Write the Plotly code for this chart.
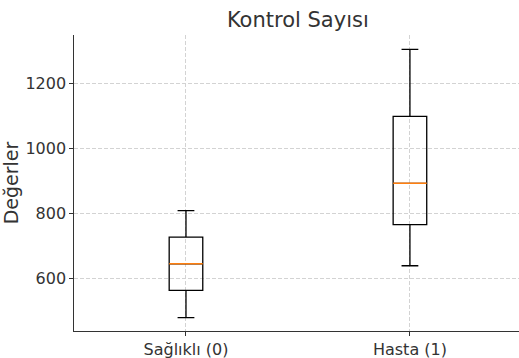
import plotly.graph_objects as go

# Box summary statistics per group
groups = ["Sağlıklı (0)", "Hasta (1)"]
positions = [1, 2]
lower_whisker = [478, 638]
q1 = [562, 765]
median = [644, 892]
q3 = [726, 1098]
upper_whisker = [808, 1305]

box_width = 0.15
text_color = "#333333"
grid = dict(showgrid=True, gridcolor="#d3d3d3", griddash="4px,2px", gridwidth=0.8)

fig = go.Figure()

for pos, lo, a, m, b, hi in zip(positions, lower_whisker, q1, median, q3, upper_whisker):
    fig.add_trace(go.Box(
        x=[pos], q1=[a], median=[m], q3=[b],
        lowerfence=[lo], upperfence=[hi],
        width=box_width, whiskerwidth=0.5,
        fillcolor="rgba(0,0,0,0)",
        line=dict(color="black", width=1.3),
        boxpoints=False, hoverinfo="skip", showlegend=False,
    ))
    # orange median line drawn over the box
    fig.add_trace(go.Scatter(
        x=[pos - box_width / 2, pos + box_width / 2], y=[m, m],
        mode="lines", line=dict(color="#ff7f0e", width=1.5),
        hoverinfo="skip", showlegend=False,
    ))

fig.update_layout(
    width=519, height=358,
    margin=dict(l=74, r=0, t=35, b=27),
    plot_bgcolor="white", paper_bgcolor="white",
    font=dict(family="DejaVu Sans", size=16, color=text_color),
    title=dict(text="Kontrol Sayısı", x=0.503, xref="paper", xanchor="center",
               y=1 - 20 / 358, yref="container", yanchor="middle",
               font=dict(size=21, color=text_color)),
)

fig.update_xaxes(
    range=[0.5, 2.487], tickvals=positions, ticktext=groups,
    showline=True, linecolor=text_color, linewidth=1.3,
    ticks="outside", ticklen=3.5, tickwidth=1, tickcolor=text_color,
    zeroline=False, **grid,
)
fig.update_yaxes(
    range=[437, 1349], tickvals=[600, 800, 1000, 1200],
    title=dict(text="Değerler", standoff=4),
    showline=True, linecolor=text_color, linewidth=1.3,
    ticks="outside", ticklen=3.5, tickwidth=1, tickcolor=text_color,
    zeroline=False, **grid,
)

fig.write_html("out.html")
